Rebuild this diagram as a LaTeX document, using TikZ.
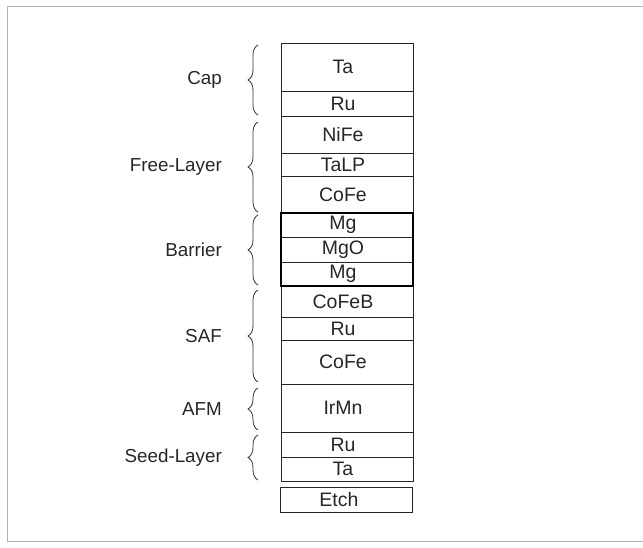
\documentclass[tikz,border=0pt]{standalone}
\usepackage{fontspec}
\setmainfont{Liberation Sans}
\usetikzlibrary{decorations.pathreplacing}
\begin{document}
\begin{tikzpicture}[x=1pt,y=-1pt,
  layer/.style={draw=black!85, line width=0.9pt},
  ltext/.style={font=\fontsize{19.5}{21}\selectfont, text=black!85, inner sep=0pt},
  glabel/.style={font=\fontsize{18.8}{21}\selectfont, text=black!85, anchor=east, inner sep=0pt},
  grp/.style={draw=black!80, line width=0.8pt, decorate, decoration={brace, amplitude=10pt}},
  frame/.style={draw=black!30, line width=0.6pt}]
\useasboundingbox (0,0) rectangle (643,548);
% faint outer frame
\draw[frame] (643,6) -- (7,6) -- (7,541) -- (643,541);
% layers
\def\xl{281}\def\xr{413}
\foreach \ya/\yb/\t [count=\i] in {43/91/Ta,91/116/Ru,116/153/NiFe,153/176/TaLP,176/213/CoFe,213/237/Mg,237/262/MgO,262/286/Mg,286/317/CoFeB,317/340/Ru,340/384/CoFe,384/432/IrMn,432/457/Ru,457/481/Ta}{
  \draw[layer] (\xl,\ya) rectangle (\xr,\yb);
  \node[ltext] (L\i) at ({(\xl+\xr)/2-4},{(\ya+\yb)/2}) {\t};
}
\draw[draw=black, line width=2.4pt] (\xl,213) rectangle (\xr,286);
\draw[layer] (280,487) rectangle (412,512);
\node[ltext] (etch) at (339,499.5) {Etch};
% braces and labels
\def\bx{258}
\foreach \ya/\yb/\t [count=\i] in {45/115/Cap,122/212/Free-Layer,215/285/Barrier,290/382/SAF,388/430/AFM,435/480/Seed-Layer}{
  \draw[grp] (\bx,\yb) -- (\bx,\ya) coordinate[midway] (b\i);
  \node[glabel] (g\i) at (222,{(\ya+\yb)/2}) {\t};
}
\end{tikzpicture}
\end{document}
